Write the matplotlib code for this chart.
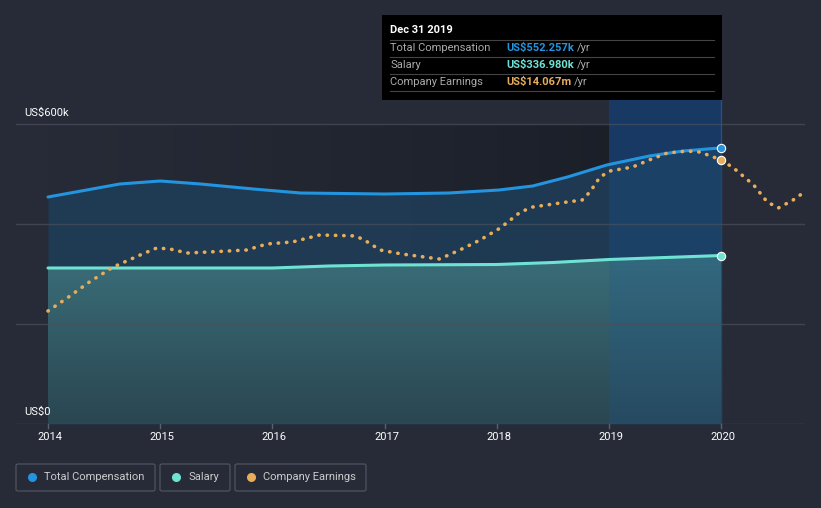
import numpy as np
import matplotlib
matplotlib.use('Agg')
import matplotlib.pyplot as plt
from matplotlib.patches import Rectangle, FancyBboxPatch
from matplotlib.lines import Line2D
from matplotlib.colors import LinearSegmentedColormap

plt.rcParams['font.family'] = ['Roboto', 'DejaVu Sans']

# Total compensation (US$k)
tc_years = [2014.00, 2014.64, 2015.00, 2015.36, 2015.83, 2016.25, 2017.00, 2017.57,
            2018.02, 2018.32, 2018.63, 2018.98, 2019.36, 2019.66, 2020.00]
tc_vals = [454, 480, 486, 480, 470, 462, 460, 462, 468, 476, 494, 518, 536, 546, 552.257]

# Salary (US$k)
sal_years = [2014.0, 2016.0, 2016.5, 2017.0, 2018.0, 2018.5, 2019.0, 2020.0]
sal_vals = [312, 312, 316, 318, 319, 323, 329, 336.98]

# Company earnings (US$m)
earn_years = [2014.00, 2014.17, 2014.37, 2014.58, 2014.82, 2014.97, 2015.09, 2015.24,
              2015.42, 2015.77, 2015.95, 2016.18, 2016.42, 2016.74, 2016.82, 2016.96,
              2017.15, 2017.49, 2017.67, 2017.85, 2018.03, 2018.21, 2018.32, 2018.63,
              2018.76, 2018.83, 2018.92, 2019.01, 2019.21, 2019.36, 2019.52, 2019.70,
              2019.81, 2020.00, 2020.11, 2020.29, 2020.41, 2020.51, 2020.64, 2020.73]
earn_vals = [6.02, 6.71, 7.57, 8.36, 9.00, 9.38, 9.32, 9.11,
             9.16, 9.27, 9.59, 9.70, 10.07, 10.02, 9.80, 9.27,
             9.06, 8.79, 9.27, 9.80, 10.44, 11.29, 11.56, 11.83,
             11.93, 12.36, 13.16, 13.48, 13.69, 14.07, 14.44, 14.54,
             14.49, 14.067, 13.64, 12.73, 11.83, 11.51, 11.93, 12.31]

x_ticks = [2014, 2015, 2016, 2017, 2018, 2019, 2020]
y_grid = [0, 200, 400, 600]

BG = '#262b37'
BLUE = '#2394df'
TEAL = '#6fe3d3'
ORANGE = '#e8ad5a'
W, H = 821, 508

fig = plt.figure(figsize=(W / 100, H / 100), dpi=100, facecolor=BG)


def fx(px):
    return px / W


def fy(py):
    return 1 - py / H


# axes: x 16..805 px, y 100..424 px
ax = fig.add_axes([fx(16), fy(424), fx(805) - fx(16), fy(100) - fy(424)])
ax.set_facecolor(BG)
x0 = 2014 - 32 / 112.2
x1 = 2014 + (805 - 48) / 112.2
ax.set_xlim(x0, x1)
ax.set_ylim(0, 648)
for s in ax.spines.values():
    s.set_visible(False)
ax.set_yticks([])
ax.set_xticks([])

# darker shading behind the history, strongest near 2019
for i in range(40):
    a = 2014 + 5 * i / 40
    b = 2014 + 5 * (i + 1) / 40
    ax.axvspan(a, b, ymin=0, ymax=600 / 648, color='#11141b',
               alpha=0.5 * ((i + 1) / 40) ** 1.2, lw=0, zorder=0)

# highlighted final year
ax.axvspan(2019, 2020, ymin=0, ymax=1, color='#14325a', alpha=0.85, lw=0, zorder=1)

# total compensation fill
ax.fill_between(tc_years, 0, tc_vals, color='#1f3e59', alpha=0.85, lw=0, zorder=3)

# salary fill with vertical gradient
sal_cmap = LinearSegmentedColormap.from_list('sal', ['#2a4651', '#3a6e79'])
poly = ax.fill_between(sal_years, 0, sal_vals, color='none', lw=0, zorder=4)
img = ax.imshow(np.linspace(0, 1, 256).reshape(-1, 1)[::-1], extent=[2014, 2020, 0, 340],
                aspect='auto', cmap=sal_cmap, zorder=4)
img.set_clip_path(poly.get_paths()[0], transform=ax.transData)

# blue overlay on the final year over the fills
ax.axvspan(2019, 2020, ymin=0, ymax=1, color='#1b5a9a', alpha=0.22, lw=0, zorder=5)

for g in y_grid:
    ax.plot([x0, x1], [g, g], color='#4a505c', lw=1, alpha=0.7, zorder=5)

ax.plot(tc_years, tc_vals, color=BLUE, lw=2.2, zorder=6, solid_capstyle='round')
ax.plot(sal_years, sal_vals, color=TEAL, lw=2.2, zorder=6, solid_capstyle='round')
ax.plot(tc_years[-1], tc_vals[-1], 'o', ms=6, color=BLUE, mec='white', mew=0.8, zorder=9)
ax.plot(sal_years[-1], sal_vals[-1], 'o', ms=6, color=TEAL, mec='white', mew=0.8, zorder=9)

ax.axvline(2020, ymin=0, ymax=1, color='#2a4f7a', lw=1, zorder=2)

ax2 = ax.twinx()
ax2.set_ylim(0, 324 / 18.77)
ax2.set_xlim(x0, x1)
ax2.axis('off')
ax2.plot(earn_years, earn_vals, color=ORANGE, lw=2.6, ls=(0, (0.1, 2.2)),
         dash_capstyle='round', zorder=7)
ax2.plot(2020, earn_vals[earn_years.index(2020.0)], 'o', ms=6, color=ORANGE,
         mec='white', mew=0.8, zorder=9)

# x tick marks and labels
for t in x_ticks:
    px = 48 + (t - 2014) * 112.2
    fig.add_artist(Line2D([fx(px), fx(px)], [fy(424), fy(428)], color='#5a606c', lw=1))
    fig.text(fx(px + 2), fy(437), str(t), color='white', fontsize=8,
             ha='center', va='center')

fig.text(fx(24), fy(113), 'US$600k', color='white', fontsize=8, va='center')
fig.text(fx(24), fy(412), 'US$0', color='white', fontsize=8, va='center')

# tooltip
fig.add_artist(Rectangle((fx(382), fy(100)), fx(722) - fx(382), fy(15) - fy(100),
                         color='black', lw=0, zorder=10))
fig.text(fx(390), fy(30), 'Dec 31 2019', color='white', fontsize=8,
         fontweight='bold', va='center', zorder=11)
for sy in [40, 57, 74, 91]:
    fig.add_artist(Line2D([fx(390), fx(714)], [fy(sy), fy(sy)], color='#444',
                          lw=0.8, zorder=11))
rows = [('Total Compensation', 'US$552.257k', BLUE),
        ('Salary', 'US$336.980k', TEAL),
        ('Company Earnings', 'US$14.067m', ORANGE)]
renderer = fig.canvas.get_renderer()
for j, (lab, val, c) in enumerate(rows):
    yy = fy(48 + 17 * j)
    fig.text(fx(390), yy, lab, color='#aaaaaa', fontsize=8, va='center', zorder=11)
    t = fig.text(fx(506), yy, val, color=c, fontsize=8, fontweight='bold',
                 va='center', zorder=11)
    bb = t.get_window_extent(renderer)
    fig.text(bb.x1 / W + fx(3), yy, '/yr', color='#aaaaaa', fontsize=8,
             va='center', zorder=11)

# legend boxes
legend = [(16, 155, 'Total Compensation', BLUE),
          (160, 230, 'Salary', TEAL),
          (235, 366, 'Company Earnings', ORANGE)]
for lx0, lx1, lab, c in legend:
    fig.add_artist(FancyBboxPatch((fx(lx0), fy(491)), fx(lx1) - fx(lx0), fy(464) - fy(491),
                                  boxstyle='round,pad=0,rounding_size=0.003',
                                  fc='none', ec='#4a505c', lw=1))
    fig.add_artist(Line2D([fx(lx0 + 16)], [fy(477)], marker='o', ms=5.5, color=c, lw=0))
    fig.text(fx(lx0 + 28), fy(477), lab, color='#cccccc', fontsize=8, va='center')

fig.savefig('out.png', dpi=100, facecolor=BG)
